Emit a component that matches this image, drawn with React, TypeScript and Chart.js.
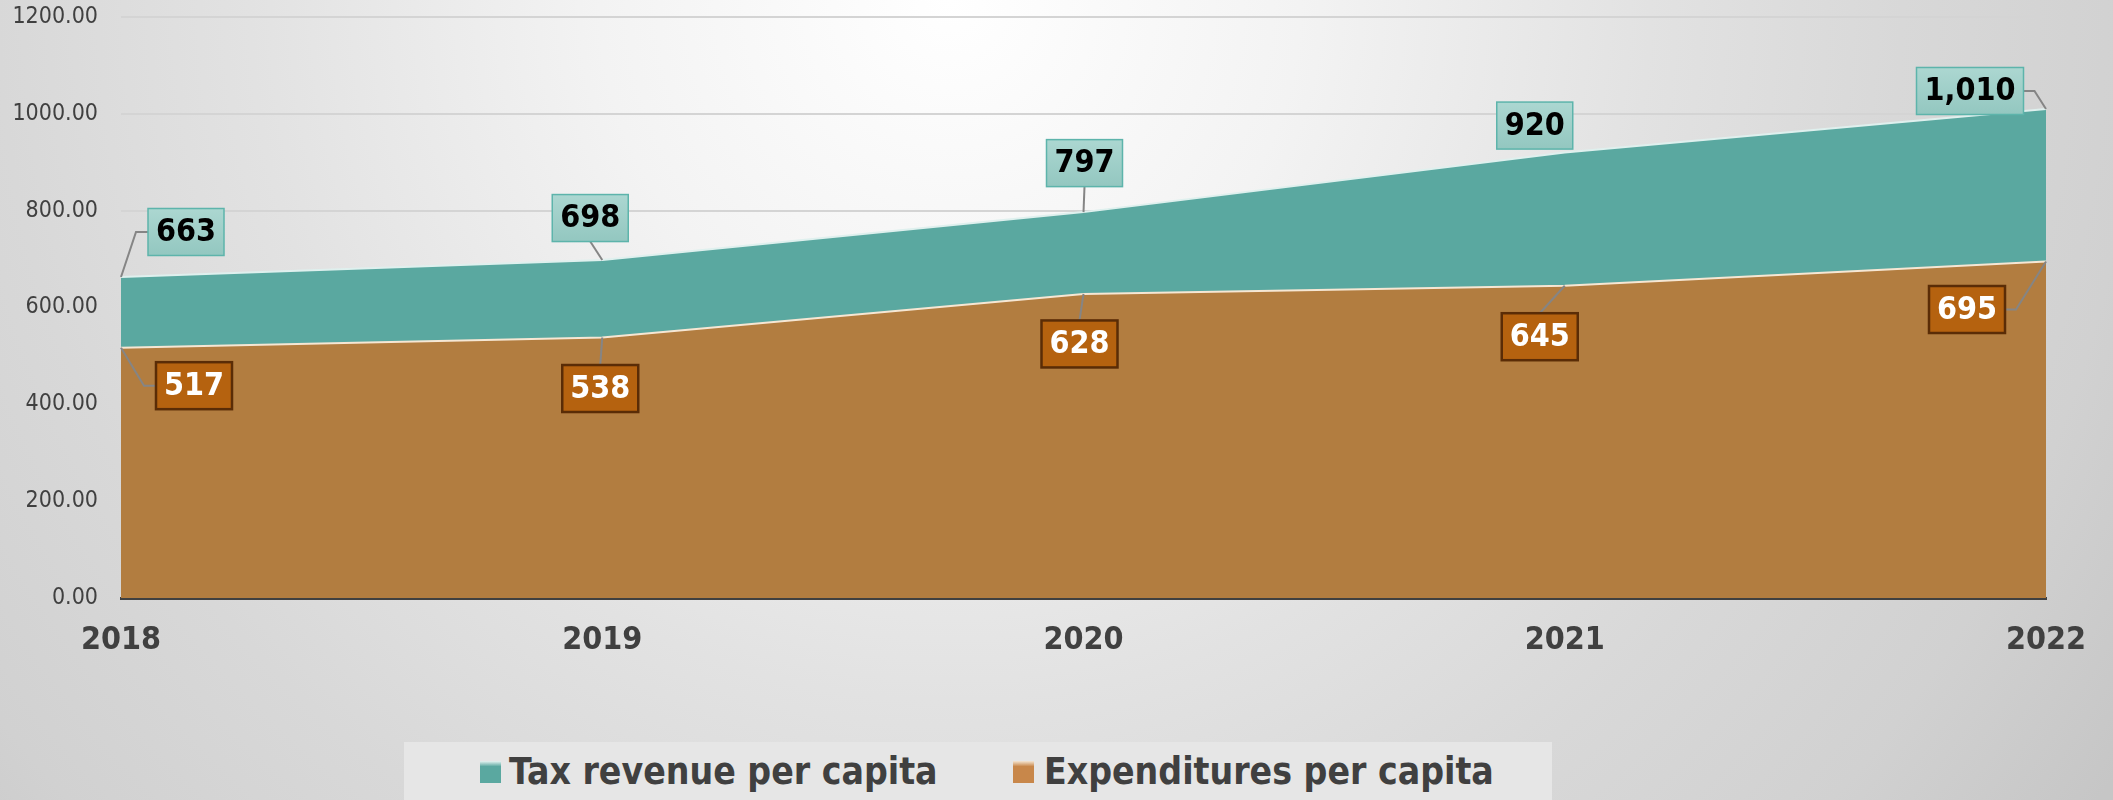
import React, { useEffect, useRef } from 'react';
import { Chart, registerables } from 'chart.js';

Chart.register(...registerables);

// ---- data ----
const years: string[] = ['2018', '2019', '2020', '2021', '2022'];
const taxRevenue: number[] = [663, 698, 797, 920, 1010];
const expenditures: number[] = [517, 538, 628, 645, 695];
const seriesNames: string[] = ['Tax revenue per capita', 'Expenditures per capita'];
const yMin = 0;
const yMax = 1200;
const yStep = 200;

// ---- label placement (px offsets of each label box centre from its point) ----
const taxLabelOffsets: number[][] = [[65, -45], [-12, -42], [1, -49], [-30, -27], [-76, -18]];
const expLabelOffsets: number[][] = [[73, 38], [-2, 51], [-4, 50], [-25, 51], [-79, 48]];

const FONT = '"DejaVu Sans Condensed", "DejaVu Sans", sans-serif';
const TEAL = '#5aa8a0';
const ORANGE = '#b27d40';

const labelStyles = [
  { fillTop: '#acd7d1', fillBottom: '#93c7c0', border: '#5db4ab', borderWidth: 1.5, text: '#000000' },
  { fillTop: '#b5620f', fillBottom: '#b5620f', border: '#5a2c06', borderWidth: 2.5, text: '#ffffff' },
];

const dataLabelPlugin = {
  id: 'boxedDataLabels',
  afterDatasetsDraw(chart: any) {
    const ctx = chart.ctx as CanvasRenderingContext2D;
    const offsets = [taxLabelOffsets, expLabelOffsets];
    chart.data.datasets.forEach((ds: any, di: number) => {
      const meta = chart.getDatasetMeta(di);
      const st = labelStyles[di];
      meta.data.forEach((pt: any, i: number) => {
        const v = ds.data[i] as number;
        const text = v.toLocaleString('en-US');
        ctx.save();
        ctx.font = `bold 32px ${FONT}`;
        const tw = ctx.measureText(text).width;
        const w = Math.round(tw + 16);
        const h = 47;
        const px = pt.x;
        const py = pt.y;
        const cx = px + offsets[di][i][0];
        const cy = py + offsets[di][i][1];
        const left = cx - w / 2;
        const right = cx + w / 2;
        const top = cy - h / 2;
        const bottom = cy + h / 2;
        // leader line
        ctx.strokeStyle = '#858585';
        ctx.lineWidth = 2;
        ctx.beginPath();
        let draw = true;
        ctx.moveTo(px, py);
        if (px < left) {
          ctx.lineTo(left - 12, cy);
          ctx.lineTo(left, cy);
        } else if (px > right) {
          ctx.lineTo(right + 11, cy);
          ctx.lineTo(right, cy);
        } else if (py > bottom + 6) {
          ctx.lineTo(cx, bottom);
        } else if (py < top - 6) {
          ctx.lineTo(cx, top);
        } else {
          draw = false;
        }
        if (draw) ctx.stroke();
        // box
        const g = ctx.createLinearGradient(0, top, 0, bottom);
        g.addColorStop(0, st.fillTop);
        g.addColorStop(1, st.fillBottom);
        ctx.fillStyle = g;
        ctx.fillRect(left, top, w, h);
        ctx.strokeStyle = st.border;
        ctx.lineWidth = st.borderWidth;
        ctx.strokeRect(left, top, w, h);
        // text
        ctx.fillStyle = st.text;
        ctx.textAlign = 'center';
        ctx.textBaseline = 'middle';
        ctx.fillText(text, cx, cy + 1);
        ctx.restore();
      });
    });
  },
};

export default function App() {
  const canvasRef = useRef<HTMLCanvasElement | null>(null);

  useEffect(() => {
    document.body.style.margin = '0';
    const canvas = canvasRef.current;
    if (!canvas) return;
    const chart = new Chart(canvas, {
      type: 'line',
      data: {
        labels: years,
        datasets: [
          {
            label: seriesNames[0],
            data: taxRevenue,
            order: 2,
            borderColor: '#dff0ee',
            borderWidth: 2,
            backgroundColor: TEAL,
            fill: 'origin',
            pointRadius: 0,
            tension: 0,
          },
          {
            label: seriesNames[1],
            data: expenditures,
            order: 1,
            borderColor: '#f6e7d4',
            borderWidth: 2,
            backgroundColor: ORANGE,
            fill: 'origin',
            pointRadius: 0,
            tension: 0,
          },
        ],
      },
      options: {
        responsive: false,
        animation: false,
        devicePixelRatio: 1,
        layout: { padding: { top: 17, right: 67, bottom: 0, left: 0 } },
        plugins: {
          legend: { display: false },
          tooltip: { enabled: false },
        },
        scales: {
          x: {
            type: 'category',
            offset: false,
            z: 1,
            grid: { display: false, drawTicks: false },
            border: { display: true, color: '#404040', width: 3 },
            ticks: {
              color: '#404040',
              padding: 23,
              maxRotation: 0,
              autoSkip: false,
              font: { family: FONT, size: 32, weight: 'bold' },
            },
            afterFit(scale: any) {
              scale.height = 202;
              scale.paddingLeft = 0;
              scale.paddingRight = 0;
            },
          },
          y: {
            min: yMin,
            max: yMax,
            grid: { color: '#d4d4d4', lineWidth: 2, drawTicks: false },
            border: { display: false },
            ticks: {
              stepSize: yStep,
              color: '#404040',
              padding: 23,
              font: { family: FONT, size: 23 },
              callback: (v: any) => Number(v).toFixed(2),
            },
            afterFit(scale: any) {
              scale.width = 121;
              scale.paddingTop = 0;
              scale.paddingBottom = 0;
            },
          },
        },
      },
      plugins: [dataLabelPlugin],
    });
    return () => chart.destroy();
  }, []);

  const legendText: React.CSSProperties = {
    position: 'absolute',
    top: 0,
    height: 58,
    lineHeight: '60px',
    fontFamily: FONT,
    fontWeight: 'bold',
    fontSize: 37,
    color: '#404040',
    whiteSpace: 'nowrap',
  };
  const swatch = (c1: string, c2: string, left: number): React.CSSProperties => ({
    position: 'absolute',
    left,
    top: 19,
    width: 21,
    height: 22,
    background: `linear-gradient(to bottom, ${c1} 0%, ${c2} 25%, ${c2} 100%)`,
  });

  return (
    <div
      style={{
        position: 'fixed',
        left: 0,
        top: 0,
        width: 2113,
        height: 800,
        overflow: 'hidden',
        background:
          'radial-gradient(circle 1400px at 950px 0px, #ffffff 0%, #f3f3f3 25%, #e2e2e2 50%, #d8d8d8 68%, #d1d1d1 85%, #c6c6c6 100%)',
      }}
    >
      <canvas ref={canvasRef} width={2113} height={800} style={{ position: 'absolute', left: 0, top: 0, width: 2113, height: 800 }} />
      <div
        style={{
          position: 'absolute',
          left: 404,
          top: 742,
          width: 1148,
          height: 58,
          background: '#e6e6e6',
        }}
      >
        <div style={swatch('#e8f4f2', TEAL, 76)} />
        <div style={{ ...legendText, left: 105 }}>{seriesNames[0]}</div>
        <div style={swatch('#f5e6d3', '#c8874a', 609)} />
        <div style={{ ...legendText, left: 640 }}>{seriesNames[1]}</div>
      </div>
    </div>
  );
}
